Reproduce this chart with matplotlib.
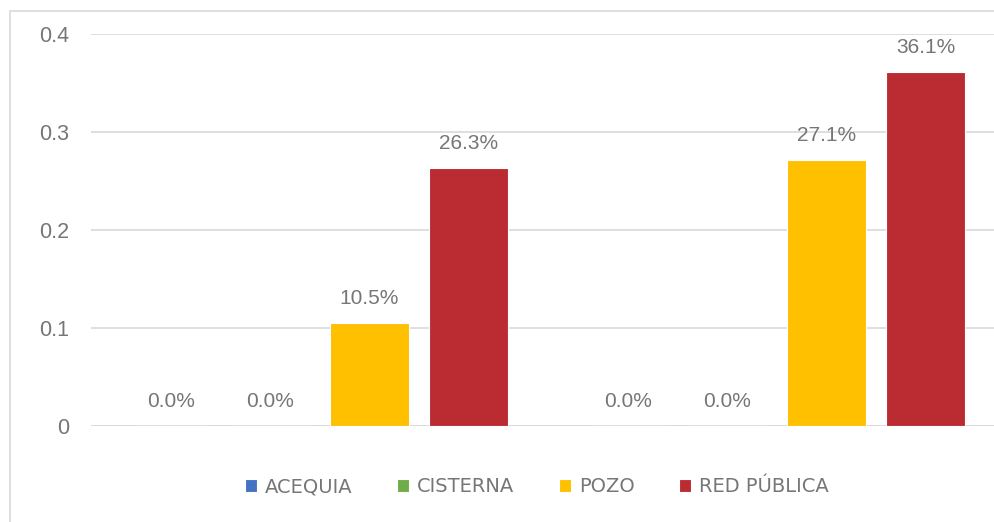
import matplotlib
matplotlib.use('Agg')
import matplotlib.pyplot as plt
import matplotlib.patches as patches
import numpy as np

# data
groups = ['Grupo 1', 'Grupo 2']
series = ['ACEQUIA', 'CISTERNA', 'POZO', 'RED PÚBLICA']
values = {
    'ACEQUIA': [0.0, 0.0],
    'CISTERNA': [0.0, 0.0],
    'POZO': [0.105, 0.271],
    'RED PÚBLICA': [0.263, 0.361],
}
colors = ['#4472C4', '#70AD47', '#FFC000', '#BA2C32']
yticks = [0, 0.1, 0.2, 0.3, 0.4]
ytick_labels = ['0', '0.1', '0.2', '0.3', '0.4']

label_grey = '#767676'
grid_grey = '#d9d9d9'

fig = plt.figure(figsize=(9.95, 5.22), dpi=100)
fig.patches.append(patches.Rectangle((10/995, -0.1), 1.2, (522-11)/522 + 0.1,
                                     transform=fig.transFigure, fill=False,
                                     edgecolor='#d9d9d9', linewidth=1.2))

ax = fig.add_axes([91.5/995, 96/522, 914/995, 392/522])

x = np.arange(len(groups))
step = 0.2166
width = 0.173
for i, name in enumerate(series):
    pos = x + (i - 1.5)*step
    bars = ax.bar(pos, values[name], width, color=colors[i], label=name,
                  edgecolor='white', linewidth=0.8, zorder=3)
    for b, v in zip(bars, values[name]):
        ax.text(b.get_x() + b.get_width()/2, v + 0.025, '%.1f%%' % (v*100),
                ha='center', va='center', fontsize=15, color=label_grey,
                family=['Liberation Sans', 'DejaVu Sans'])

ax.set_xlim(-0.5, 1.5)
ax.set_ylim(0, 0.4)
ax.set_yticks(yticks)
ax.set_yticklabels(ytick_labels, fontsize=15.5, color=label_grey,
                   family=['Liberation Sans', 'DejaVu Sans'])
ax.set_xticks([])
ax.tick_params(axis='y', length=0, pad=15.8)
ax.grid(axis='y', color=grid_grey, linewidth=1.2, zorder=0)
ax.axhline(0, color=grid_grey, linewidth=1.2, zorder=2)
for s in ax.spines.values():
    s.set_visible(False)

leg = fig.legend(loc='center', bbox_to_anchor=(537/995, 1 - 487/522), ncol=4,
                 frameon=False, handlelength=0.62, handleheight=0.62,
                 handletextpad=0.4, columnspacing=2.3,
                 prop={'family': ['Liberation Sans Narrow', 'DejaVu Sans'], 'size': 14})
for t in leg.get_texts():
    t.set_color(label_grey)

fig.savefig('out.png', dpi=100)
